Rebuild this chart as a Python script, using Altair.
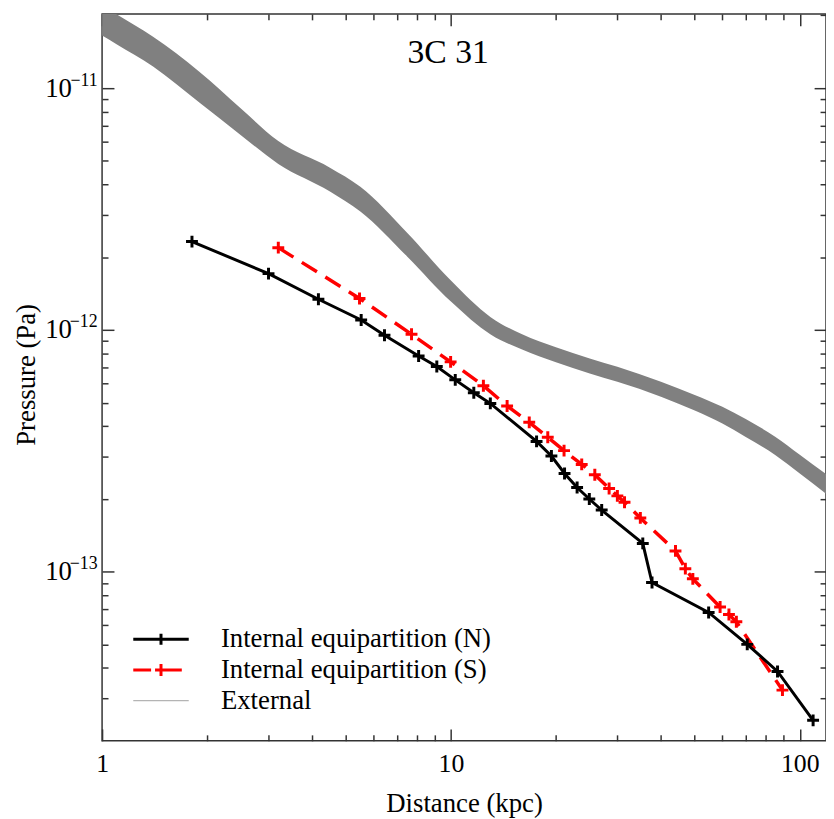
import altair as alt
import pandas as pd

# ---------------- data ----------------
n_dist = [1.81, 3.00, 4.17, 5.53, 6.45, 8.08, 9.11, 10.29, 11.63, 12.97, 17.60,
          19.41, 21.17, 23.00, 24.93, 27.05, 35.48, 37.71, 54.80, 70.70, 86.35, 109.2]
n_pressure = [2.32e-12, 1.71e-12, 1.34e-12, 1.10e-12, 9.51e-13, 7.80e-13, 7.06e-13,
              6.22e-13, 5.50e-13, 4.97e-13, 3.46e-13, 3.01e-13, 2.55e-13, 2.23e-13,
              2.00e-13, 1.80e-13, 1.31e-13, 9.03e-14, 6.79e-14, 5.01e-14, 3.87e-14, 2.43e-14]

s_dist = [3.20, 5.47, 7.71, 9.98, 12.39, 14.49, 16.77, 18.95, 21.10, 23.71, 25.85,
          28.41, 30.00, 31.45, 34.91, 44.03, 46.99, 49.37, 59.10, 62.66, 65.80, 89.20]
s_pressure = [2.19e-12, 1.35e-12, 9.60e-13, 7.38e-13, 5.88e-13, 4.85e-13, 4.15e-13,
              3.60e-13, 3.17e-13, 2.78e-13, 2.52e-13, 2.21e-13, 2.06e-13, 1.94e-13,
              1.67e-13, 1.22e-13, 1.03e-13, 9.35e-14, 7.15e-14, 6.66e-14, 6.21e-14, 3.24e-14]

ext_dist = [1.0, 1.1, 1.4, 1.9, 2.5, 3.2, 4.5, 5.5, 7.5, 10, 13, 16, 20, 25, 30, 40,
            50, 60, 70, 85, 100, 120]
ext_upper = [2.19e-11, 2.02e-11, 1.63e-11, 1.17e-11, 8.24e-12, 6.04e-12, 4.69e-12,
             3.91e-12, 2.52e-12, 1.60e-12, 1.13e-12, 9.59e-13, 8.48e-13, 7.62e-13,
             7.04e-13, 6.11e-13, 5.39e-13, 4.81e-13, 4.28e-13, 3.62e-13, 3.05e-13, 2.51e-13]
ext_lower = [1.65e-11, 1.52e-11, 1.23e-11, 8.72e-12, 6.39e-12, 4.86e-12, 3.74e-12,
             3.09e-12, 2.01e-12, 1.31e-12, 9.58e-13, 8.30e-13, 7.36e-13, 6.61e-13,
             6.11e-13, 5.30e-13, 4.64e-13, 4.10e-13, 3.61e-13, 3.04e-13, 2.55e-13, 2.08e-13]

series_names = ["Internal equipartition (N)", "Internal equipartition (S)", "External"]
series_colors = ["#000000", "#ff0000", "#b4b4b4"]
series_widths = [3, 3, 1.3]
legend_paths = ["M-4,0L4,0M0,-0.8L0,0.8",
                "M-4,0L-1.43,0M-0.86,0L3,0M0,-0.86L0,0.86",
                "M-4,0L4,0"]

x_major = [1, 10, 100]
x_minor = [2, 3, 4, 5, 6, 7, 8, 9, 20, 30, 40, 50, 60, 70, 80, 90]
y_major = [1e-13, 1e-12, 1e-11]
y_exponents = ["\u221213", "\u221212", "\u221211"]
y_minor = [3e-14, 4e-14, 5e-14, 6e-14, 7e-14, 8e-14, 9e-14,
           2e-13, 3e-13, 4e-13, 5e-13, 6e-13, 7e-13, 8e-13, 9e-13,
           2e-12, 3e-12, 4e-12, 5e-12, 6e-12, 7e-12, 8e-12, 9e-12, 2e-11]

X_DOMAIN = [1, 118.9]
Y_DOMAIN = [2.0e-14, 2.028e-11]

FONT = "Liberation Serif"
TICK = "#333333"
PLUS = "M-1,0L1,0M0,-1L0,1"

n_df = pd.DataFrame({"dist": n_dist, "pressure": n_pressure})
s_df = pd.DataFrame({"dist": s_dist, "pressure": s_pressure})
ext_df = pd.DataFrame({"dist": ext_dist, "upper": ext_upper, "lower": ext_lower})
legend_df = pd.DataFrame({"series": series_names})

xs = alt.Scale(type="log", domain=X_DOMAIN, nice=False)
ys = alt.Scale(type="log", domain=Y_DOMAIN, nice=False)


def tick_axis(orient, values, size, **extra):
    base = dict(orient=orient, values=values, tickSize=size, offset=-size,
                domain=False, grid=False, labels=False, ticks=True,
                tickColor=TICK, tickWidth=1.5)
    base.update(extra)
    return alt.Axis(**base)


exp_expr = ("datum.value < 5e-13 ? '%s' : (datum.value < 5e-12 ? '%s' : '%s')"
            % tuple(y_exponents))

x_bottom = tick_axis(
    "bottom", x_major, 12, labels=True, format="d", labelFont=FONT,
    labelFontSize=26, labelColor="black", labelPadding=10, labelFlush=False,
    labelOverlap=False, titleFont=FONT, titleFontSize=27,
    titleFontWeight="normal", titleColor="black", titleY=83,
    titleBaseline="alphabetic")
y_left = tick_axis(
    "left", y_major, 12, labels=True, labelFont=FONT, labelFontSize=27,
    labelColor="black", labelPadding=31, labelFlush=False, labelOverlap=False,
    labelExpr="'10'",
    titleFont=FONT, titleFontSize=27, titleFontWeight="normal",
    titleColor="black", titleAngle=270, titleAlign="center",
    titleBaseline="middle", titleX=-88, titleY=364)
# exponent part of the y tick labels (superscript)
y_exp = alt.Axis(orient="left", values=y_major, ticks=False, tickSize=0, offset=0,
                 domain=False, grid=False, labels=True, labelFont=FONT,
                 labelFontSize=18, labelColor="black", labelPadding=5,
                 labelOffset=-8, labelFlush=False, labelOverlap=False,
                 labelExpr=exp_expr)

band = alt.Chart(ext_df).mark_area(color="#808080", clip=True,
                                   interpolate="monotone").encode(
    x=alt.X("dist:Q", scale=xs, axis=x_bottom, title="Distance (kpc)"),
    y=alt.Y("upper:Q", scale=ys, axis=y_left, title="Pressure (Pa)"),
    y2="lower:Q",
)

s_line = alt.Chart(s_df).mark_line(color="#ff0000", strokeWidth=3.5,
                                   strokeDash=[18, 10]).encode(
    x=alt.X("dist:Q", scale=xs, axis=tick_axis("bottom", x_minor, 6), title=None),
    y=alt.Y("pressure:Q", scale=ys, axis=tick_axis("left", y_minor, 6), title=None),
)

s_pts = alt.Chart(s_df).mark_point(shape=PLUS, size=144, filled=False,
                                   color="#ff0000", strokeWidth=3, opacity=1).encode(
    x=alt.X("dist:Q", scale=xs, axis=tick_axis("top", x_major, 12), title=None),
    y=alt.Y("pressure:Q", scale=ys, axis=tick_axis("right", y_major, 12), title=None),
)

n_line = alt.Chart(n_df).mark_line(color="#000000", strokeWidth=3).encode(
    x=alt.X("dist:Q", scale=xs, axis=tick_axis("top", x_minor, 6), title=None),
    y=alt.Y("pressure:Q", scale=ys, axis=tick_axis("right", y_minor, 6), title=None),
)

n_pts = alt.Chart(n_df).mark_point(shape=PLUS, size=144, filled=False,
                                   color="#000000", strokeWidth=3, opacity=1).encode(
    x=alt.X("dist:Q", scale=xs, axis=None),
    y=alt.Y("pressure:Q", scale=ys, axis=y_exp, title=None),
)

leg = alt.Legend(orient="none", legendX=46, legendY=618, title=None,
                 labelFont=FONT, labelFontSize=27, labelColor="black",
                 labelOffset=47, labelLimit=500, rowPadding=3, padding=0,
                 symbolSize=196)

legend_layer = alt.Chart(legend_df).transform_filter("false").mark_point(
    filled=False, opacity=1, size=196).encode(
    color=alt.Color("series:N", scale=alt.Scale(domain=series_names, range=series_colors), legend=leg),
    shape=alt.Shape("series:N", scale=alt.Scale(domain=series_names, range=legend_paths), legend=leg),
    strokeWidth=alt.StrokeWidth("series:N", scale=alt.Scale(type="ordinal", domain=series_names,
                                                            range=series_widths), legend=leg),
)

title = alt.TitleParams("3C 31", font=FONT, fontSize=34, fontWeight="normal",
                        color="black", anchor="middle", baseline="alphabetic",
                        offset=0, dx=-16, dy=84)

chart = alt.layer(band, s_line, s_pts, n_line, n_pts, legend_layer, title=title).resolve_axis(
    x="independent", y="independent"
).properties(
    width=731, height=734,
    padding={"left": 95, "top": 2, "right": 0, "bottom": 75},
    autosize=alt.AutoSizeParams(type="none"),
).configure_view(stroke=TICK, strokeWidth=1.5)

chart.save("out.html", embed_options={"renderer": "svg", "actions": False})
